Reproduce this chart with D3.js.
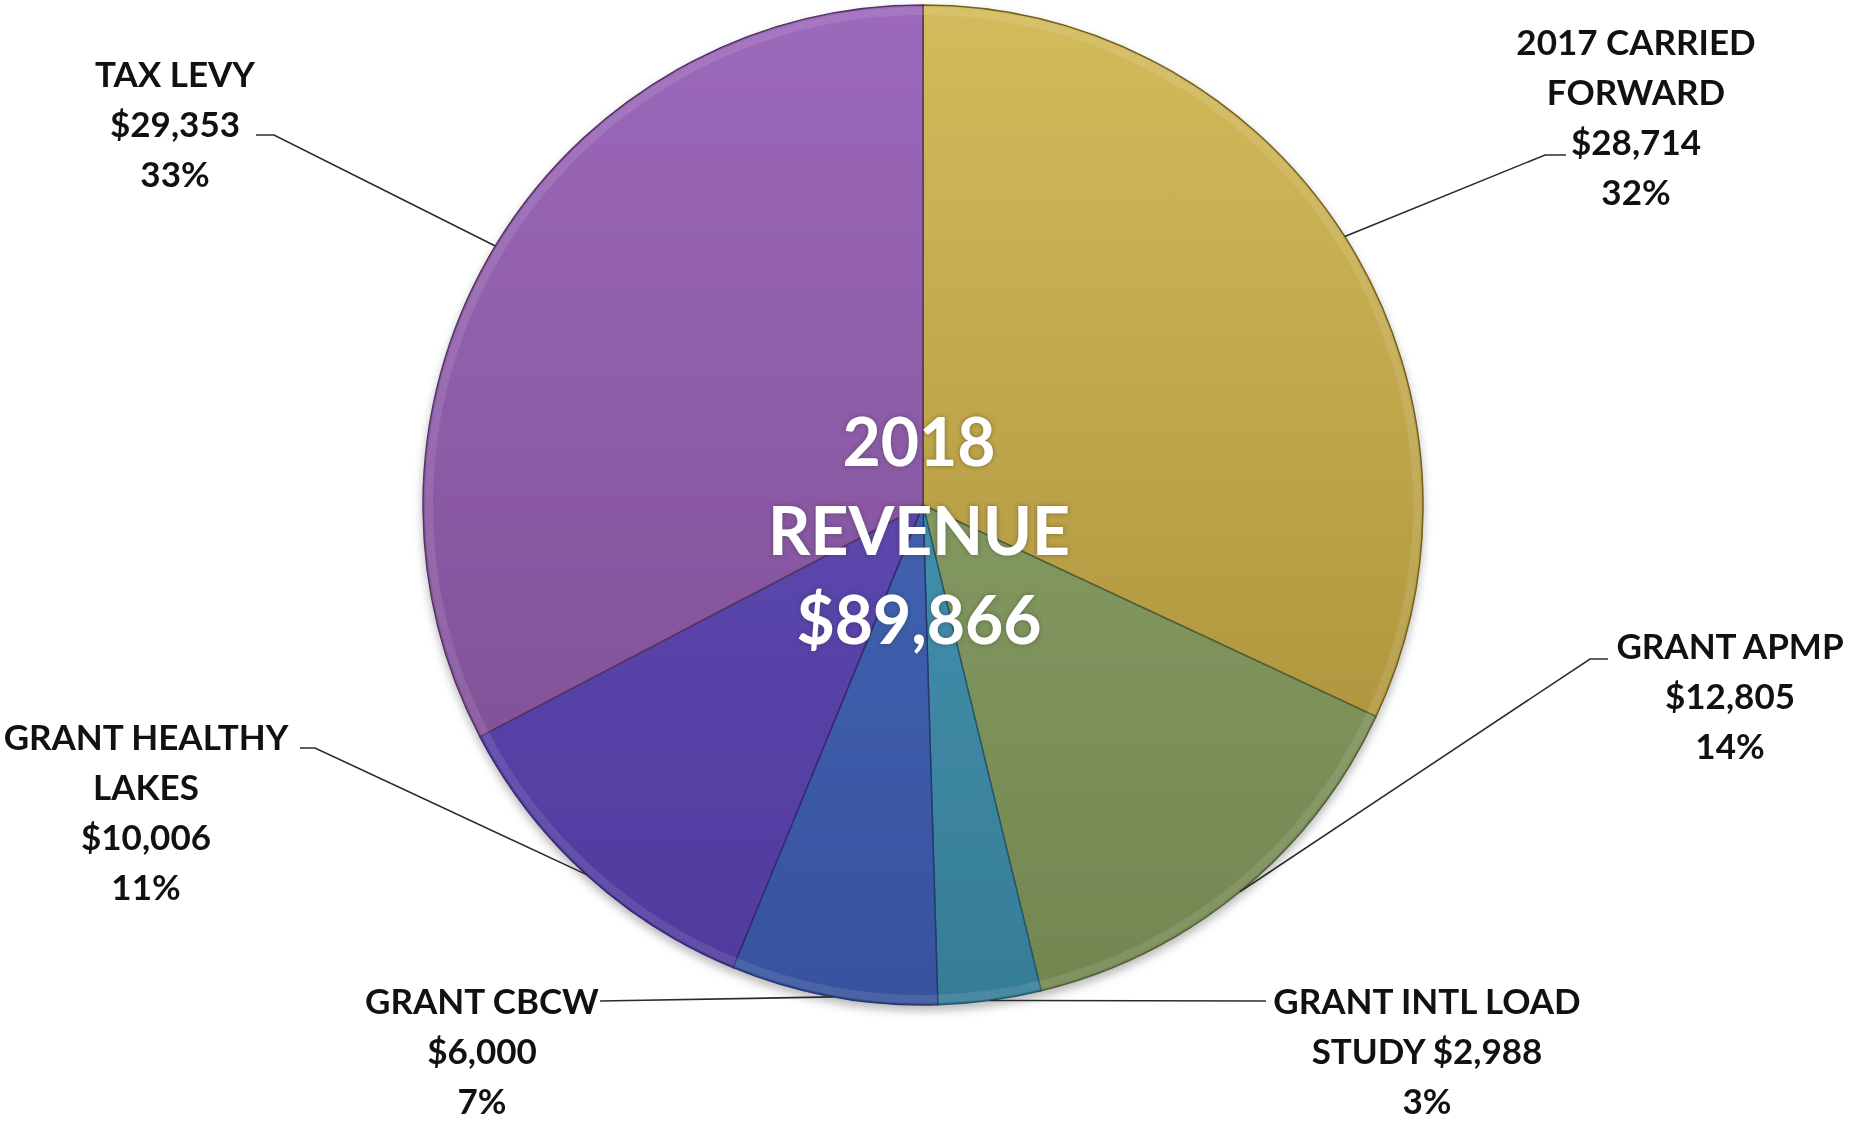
<!DOCTYPE html>
<html>
<head>
<meta charset="utf-8">
<script src="https://cdn.jsdelivr.net/npm/d3@7"></script>
<style>
  html, body { margin: 0; padding: 0; background: #ffffff; }
  svg { display: block; }
  text { font-family: Lato, "Open Sans", "DejaVu Sans", sans-serif; font-weight: 700; }
</style>
</head>
<body>
<svg id="chart" width="1864" height="1124"></svg>
<script>
// ---- data ----
const categories = ["2017 CARRIED FORWARD", "GRANT APMP", "GRANT INTL LOAD STUDY", "GRANT CBCW", "GRANT HEALTHY LAKES", "TAX LEVY"];
const values = [28714, 12805, 2988, 6000, 10006, 29353];
const labelLines = [
  ["2017 CARRIED", "FORWARD", "{v}", "{p}"],
  ["GRANT APMP", "{v}", "{p}"],
  ["GRANT INTL LOAD", "STUDY {v}", "{p}"],
  ["GRANT CBCW", "{v}", "{p}"],
  ["GRANT HEALTHY", "LAKES", "{v}", "{p}"],
  ["TAX LEVY", "{v}", "{p}"]
];
const titleLines = ["2018", "REVENUE", "{total}"];

// ---- styling / layout ----
const colorsTop = ["#d3bb5c", "#94ab70", "#4fa2bf", "#4a72c3", "#6954bf", "#9c69bb"];
const colorsBot = ["#a38832", "#728650", "#367c97", "#37529e", "#4f3a9c", "#784a8c"];
const labelLayout = [
  {x: 1636, y: 55,  elbow: [1545, 155], end: [1566, 155]},
  {x: 1730, y: 659, elbow: [1590, 659], end: [1608, 659]},
  {x: 1427, y: 1014, elbow: [1266, 1001], end: [1266, 1001]},
  {x: 482,  y: 1014, elbow: [600, 1001], end: [600, 1001]},
  {x: 146,  y: 750, elbow: [315, 748], end: [300, 748]},
  {x: 175,  y: 87,  elbow: [274, 135], end: [256, 135]}
];
const cx = 923, cy = 505, R = 500;
const lineH = 50;

const svg = d3.select("#chart");
const defs = svg.append("defs");

const shadow = defs.append("filter").attr("id", "shadow")
  .attr("x", "-10%").attr("y", "-10%").attr("width", "120%").attr("height", "125%");
shadow.append("feDropShadow").attr("dx", 0).attr("dy", 5).attr("stdDeviation", 5)
  .attr("flood-color", "#000").attr("flood-opacity", 0.28);

const tshadow = defs.append("filter").attr("id", "tshadow")
  .attr("x", "-10%").attr("y", "-20%").attr("width", "120%").attr("height", "140%");
tshadow.append("feDropShadow").attr("dx", 0).attr("dy", 0).attr("stdDeviation", 2)
  .attr("flood-color", "#303030").attr("flood-opacity", 0.5);

categories.forEach((c, i) => {
  const g = defs.append("linearGradient").attr("id", "grad" + i)
    .attr("gradientUnits", "userSpaceOnUse")
    .attr("x1", 0).attr("y1", -R).attr("x2", 0).attr("y2", R);
  g.append("stop").attr("offset", "0%").attr("stop-color", colorsTop[i]);
  g.append("stop").attr("offset", "100%").attr("stop-color", colorsBot[i]);
});

const total = d3.sum(values);
const fmtMoney = v => "$" + d3.format(",")(v);
const fmtPct = d3.format(".0%");

const pie = d3.pie().sort(null).value(d => d)(values);
const arc = d3.arc().innerRadius(0).outerRadius(R);
const edgeArc = d3.arc().innerRadius(R).outerRadius(R);

const gPie = svg.append("g").attr("filter", "url(#shadow)");
gPie.selectAll("path.slice").data(pie).join("path")
  .attr("class", "slice")
  .attr("d", arc)
  .attr("transform", `translate(${cx},${cy})`)
  .attr("fill", (d, i) => `url(#grad${i})`)
  .attr("stroke", (d, i) => d3.color(colorsBot[i]).darker(1))
  .attr("stroke-width", 1.5);

// light bevel rim
gPie.selectAll("path.hl").data(pie).join("path")
  .attr("class", "hl")
  .attr("d", d3.arc().innerRadius(R - 10).outerRadius(R - 2))
  .attr("transform", `translate(${cx},${cy})`)
  .attr("fill", "#ffffff").attr("opacity", 0.10);

// leader lines
const gLines = svg.append("g");
pie.forEach((d, i) => {
  const c = edgeArc.centroid(d);
  const p0 = [cx + c[0], cy + c[1]];
  const L = labelLayout[i];
  gLines.append("polyline")
    .attr("points", [p0, L.elbow, L.end].map(p => p.join(",")).join(" "))
    .attr("fill", "none").attr("stroke", "#2b2b2b").attr("stroke-width", 1.6);
});

// labels
const gLab = svg.append("g");
pie.forEach((d, i) => {
  const L = labelLayout[i];
  const t = gLab.append("text").attr("text-anchor", "middle")
    .attr("font-size", 35).attr("fill", "#111");
  labelLines[i].forEach((ln, k) => {
    const s = ln.replace("{v}", fmtMoney(values[i])).replace("{p}", fmtPct(values[i] / total));
    t.append("tspan").attr("x", L.x).attr("y", L.y + k * lineH).text(s);
  });
});

// center title
const tt = svg.append("text").attr("text-anchor", "middle")
  .attr("font-size", 66).attr("fill", "#ffffff").attr("filter", "url(#tshadow)");
titleLines.forEach((ln, k) => {
  tt.append("tspan").attr("x", 919).attr("y", 466 + k * 89)
    .text(ln.replace("{total}", fmtMoney(total)));
});
</script>
</body>
</html>
